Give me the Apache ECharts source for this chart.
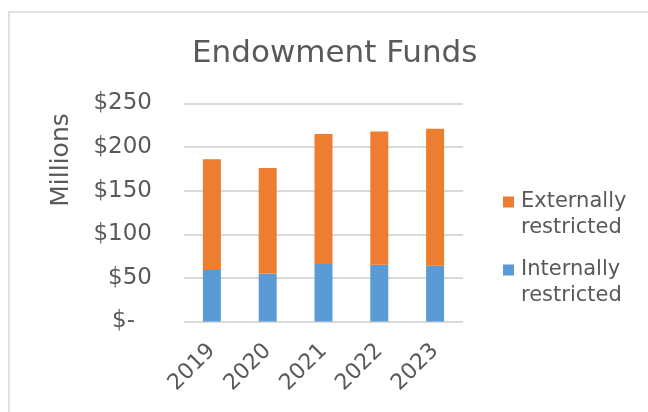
<!DOCTYPE html>
<html>
<head>
<meta charset="utf-8">
<script src="https://cdn.jsdelivr.net/npm/echarts@6/dist/echarts.min.js"></script>
<style>
  html, body { margin: 0; padding: 0; background: #fff; }
  #chart { width: 648px; height: 412px; }
</style>
</head>
<body>
<div id="chart"></div>
<script>
// values, in millions
const years = ['2019', '2020', '2021', '2022', '2023'];
const internallyRestricted = [59, 55, 66, 65, 64];
const externallyRestricted = [127, 121, 149, 153, 157];
const yTicks = [0, 50, 100, 150, 200, 250];

const textColor = '#595959';
const font = 'DejaVu Sans';

const chart = echarts.init(document.getElementById('chart'));
chart.setOption({
  animation: false,
  textStyle: { fontFamily: font },
  title: {
    text: 'Endowment Funds',
    left: 187,
    top: 33,
    textStyle: { color: textColor, fontSize: 31, fontWeight: 'normal', fontFamily: font }
  },
  graphic: [
    {
      type: 'rect',
      shape: { x: 9, y: 12, width: 700, height: 500 },
      style: { fill: 'none', stroke: '#d9d9d9', lineWidth: 1.5 },
      silent: true
    },
    {
      type: 'text',
      x: 61,
      y: 160,
      rotation: Math.PI / 2,
      style: {
        text: 'Millions',
        fill: textColor,
        font: '25px "DejaVu Sans"',
        align: 'center',
        verticalAlign: 'middle'
      }
    }
  ],
  legend: {
    orient: 'vertical',
    left: 503,
    top: 189,
    padding: 0,
    itemGap: 16,
    itemWidth: 11,
    itemHeight: 37,
    // square on the first text line; the speck at the bottom only stretches the box
    icon: 'path://M0,0L11,0L11,11L0,11Z M0,36.99L0.01,36.99L0.01,37Z',
    data: ['Externally restricted', 'Internally restricted'],
    formatter: name => name.replace(' ', '\n'),
    textStyle: { color: textColor, fontSize: 21, lineHeight: 26, fontFamily: font, padding: [0, 0, 0, 2] }
  },
  grid: { left: 184, right: 185, top: 103.5, bottom: 90.5 },
  xAxis: {
    type: 'category',
    data: years,
    axisLine: { show: false },
    axisTick: { show: false },
    axisLabel: { rotate: 45, margin: 26, color: textColor, fontSize: 22, fontFamily: font }
  },
  yAxis: {
    type: 'value',
    min: yTicks[0],
    max: yTicks[yTicks.length - 1],
    interval: yTicks[1] - yTicks[0],
    axisLine: { show: false },
    axisTick: { show: false },
    splitLine: { lineStyle: { color: '#d9d9d9', width: 2 } },
    axisLabel: {
      margin: 32,
      color: textColor,
      fontSize: 23,
      fontFamily: font,
      formatter: v => (v === 0 ? '{z|$-}' : '$' + v),
      rich: { z: { color: textColor, fontSize: 23, fontFamily: font, padding: [0, 17, 0, 0] } }
    }
  },
  series: [
    {
      name: 'Internally restricted',
      type: 'bar',
      stack: 'total',
      barWidth: 18,
      itemStyle: { color: '#5b9bd5' },
      data: internallyRestricted
    },
    {
      name: 'Externally restricted',
      type: 'bar',
      stack: 'total',
      barWidth: 18,
      itemStyle: { color: '#ed7d31' },
      data: externallyRestricted
    }
  ]
});
</script>
</body>
</html>
